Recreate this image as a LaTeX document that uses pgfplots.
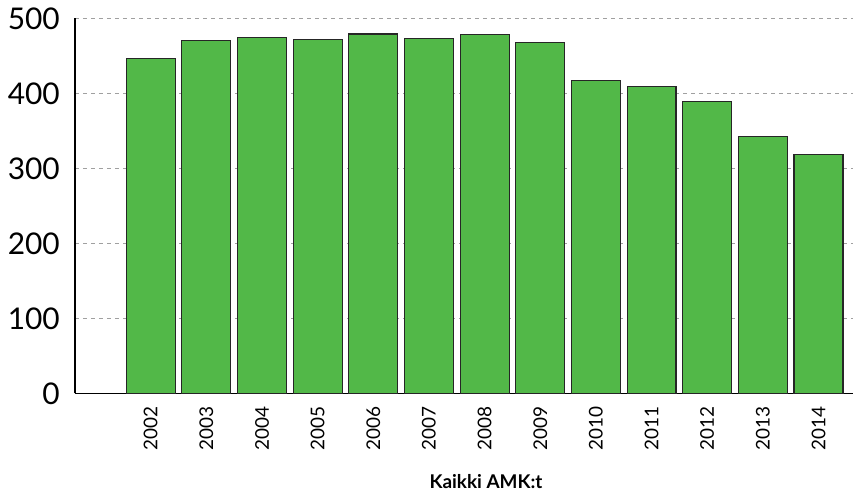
\documentclass[border=0pt]{standalone}
\usepackage{fontspec}
\setmainfont{Lato}
\usepackage{pgfplots}
\pgfplotsset{compat=1.18}
\definecolor{bargreen}{RGB}{82,184,72}
\definecolor{gridgray}{RGB}{160,160,160}
\begin{document}
\begin{tikzpicture}
\begin{axis}[
  at={(0,0)}, anchor=south west,
  scale only axis,
  width=778bp, height=375bp,
  xmin=-1.36, xmax=12.62,
  ymin=0, ymax=500,
  axis x line=bottom, axis y line=left,
  axis line style={-, black, line width=1.3bp},
  xtick={0,1,2,3,4,5,6,7,8,9,10,11,12},
  xticklabels={2002,2003,2004,2005,2006,2007,2008,2009,2010,2011,2012,2013,2014},
  ytick={0,100,200,300,400,500},
  major tick length=0pt,
  ymajorgrids,
  grid style={gridgray, line width=0.9bp, dash pattern=on 4bp off 4bp},
  /pgf/number format/assume math mode=true,
  yticklabel style={anchor=east, inner sep=0pt, xshift=-15bp, font=\fontsize{30}{36}\selectfont},
  xticklabel style={rotate=90, anchor=east, inner sep=0pt, xshift=-13bp, font=\fontsize{19}{23}\selectfont},
  clip=false,
]
\addplot[ybar, bar width=0.88, fill=bargreen, draw=black!85, line width=1.1bp] coordinates {
(0,446) (1,470) (2,474) (3,472) (4,479) (5,473) (6,478) (7,468) (8,417) (9,409) (10,389) (11,342) (12,318)
};
\end{axis}
\node[anchor=base, font=\bfseries\fontsize{19}{23}\selectfont] at (411bp,-94.7bp) {Kaikki AMK:t};
\pgfresetboundingbox
\path[use as bounding box] (-75bp,-97.7bp) rectangle (778bp,393.3bp);
\end{tikzpicture}
\end{document}
